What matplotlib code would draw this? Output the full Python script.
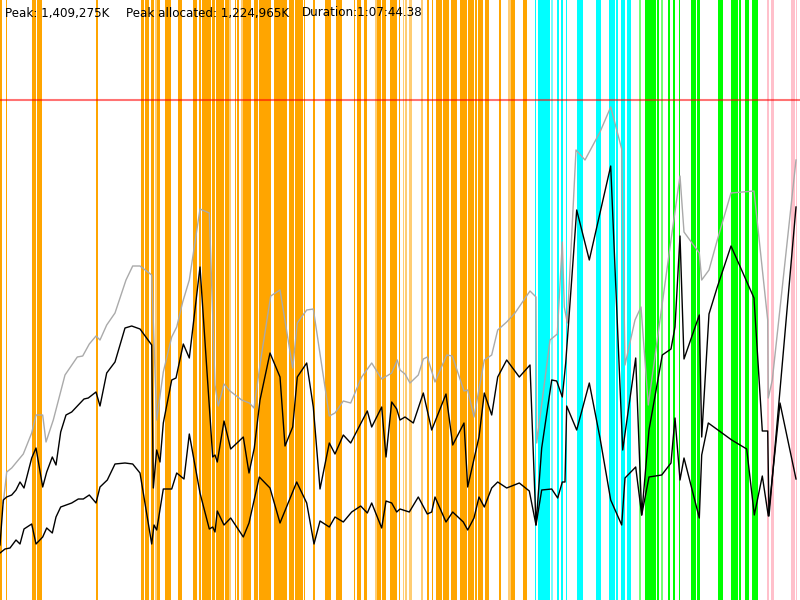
import matplotlib
matplotlib.use('Agg')
import matplotlib.pyplot as plt

# summary figures shown in the header
peak_k = 1409275
peak_alloc_k = 1224965
duration = '1:07:44.38'

# time axis runs 0..800 (log ticks), memory in units of 2.75 MB
units_per_k = 500 / peak_k

# heap committed (gray)
committed_t = [3.3, 6.7, 11.7, 18.3, 23.3, 31.7, 36, 42.7, 46, 53.3, 65, 77.3, 82.7, 89.3,
               96, 100, 106.7, 115, 126, 132.7, 140, 151.7, 156.7, 163.3, 171.7, 176.7,
               182.7, 189.3, 200, 209.3, 215, 218.3, 224, 230, 241.7, 249.3, 254, 260.7,
               270.7, 280, 292.7, 297.3, 306.7, 313.3, 329.3, 335, 343.3, 350.7, 361.7,
               371.7, 381.7, 391.7, 397.3, 400, 405, 410, 418.3, 423.3, 427.3, 435, 446.7,
               452.3, 464, 467.7, 474, 484.3, 491.7, 497.7, 506.7, 515, 530, 536, 536.7,
               550, 557.3, 562.3, 564.3, 567.3, 576, 585, 600, 610.7, 621.7, 625, 635,
               641, 648.3, 671, 680, 684, 699.3, 701.7, 709, 717.3, 731, 754, 767.7,
               768.3, 772.3, 796]
committed = [97, 128, 132, 140, 146, 167, 185, 185, 158, 180, 225, 243, 244, 256,
             264, 260, 275, 287, 320, 334, 334, 325, 180, 228, 263, 273,
             298, 320, 391, 387, 215, 194, 216, 209, 200, 197, 192, 240,
             304, 310, 232, 277, 290, 291, 184, 187, 199, 197, 223,
             237, 221, 227, 240, 230, 226, 217, 225, 241, 243, 218, 245,
             244, 209, 210, 183, 240, 245, 270, 278, 287, 309, 303, 157,
             260, 266, 358, 293, 277, 450, 440, 468, 493, 451, 235, 280,
             293, 195, 360, 424, 368, 347, 320, 330, 360, 407, 409, 280,
             202, 220, 440]

# heap used before collection (black, upper)
used_t = [0, 3.3, 6.7, 11.7, 16, 20, 24, 31.7, 36, 42.7, 46.7, 52.3, 56, 60.7, 66,
          71.7, 78.3, 84, 88.3, 96, 100, 106.7, 115, 125, 131.7, 140, 151.7, 153.3,
          156.7, 160, 163.3, 171.7, 176, 183.3, 189.3, 200, 212.7, 215, 217.3, 224,
          230.7, 243.3, 249, 254.3, 260, 270, 280, 285, 292.7, 297.3, 306.7, 313.3,
          320, 329.3, 335, 343.3, 350.7, 360, 367.3, 371.7, 381.7, 386, 391.7, 396.7,
          400, 405, 413.3, 423.3, 431.7, 446, 452.7, 464, 467.7, 479, 484.3, 491.7,
          497.7, 506.7, 519.3, 530, 536, 541.7, 551.7, 556.7, 562.3, 565.7, 576.7,
          589.3, 600, 610.7, 622.7, 635.7, 641.7, 649, 662.3, 671, 675, 680, 684,
          699.3, 701.7, 709, 717.3, 731, 754, 762.3, 767.7, 769, 796]
used = [55, 100, 103, 105, 110, 118, 112, 142, 152, 113, 128, 143, 135, 168, 185,
        188, 195, 201, 202, 208, 194, 227, 238, 272, 274, 271, 255, 112,
        150, 138, 177, 220, 222, 256, 242, 333, 143, 145, 138, 179,
        151, 163, 127, 152, 200, 247, 223, 154, 173, 223, 237, 193,
        111, 157, 146, 165, 157, 175, 189, 173, 193, 143, 198, 191,
        180, 183, 177, 207, 170, 206, 155, 177, 113, 163, 207, 185,
        223, 240, 223, 235, 75, 152, 220, 219, 203, 237, 390,
        340, 387, 434, 150, 242, 85, 170, 245, 251, 273, 364, 241,
        285, 163, 286, 313, 354, 302, 169, 169, 84, 393]

# heap live after collection (black, lower)
live_t = [0, 5, 10, 16, 20, 24, 31.7, 36, 42.7, 46.7, 52.3, 56, 60.7, 71.7, 78.3,
          83.3, 89.3, 96, 100, 107.3, 115, 125, 132.7, 140, 151.7, 154, 156.7, 163.3,
          171.7, 176.7, 184, 189.3, 200, 209.3, 212.7, 215, 217.3, 224, 230.7, 243.3,
          249, 259.3, 270, 280, 296.7, 306.7, 314, 320, 329.3, 335, 343.3, 351.7,
          360.7, 367.3, 371.7, 381.7, 386, 391.7, 396.7, 400, 409.3, 418.3, 427.3,
          431.7, 435, 446, 452.7, 463.3, 467.7, 474, 479, 484.3, 491.7, 497.7, 506.7,
          519.3, 529.3, 536, 541.7, 551.7, 557.7, 562.3, 565, 566.7, 576.7, 589.3,
          600, 610.7, 621.7, 625, 635.7, 641.7, 649, 661.7, 671, 675, 680, 684, 699.3,
          701.7, 708.3, 731.7, 746.7, 754.3, 762.3, 768.3, 780, 796]
live = [47, 51, 52, 60, 56, 71, 76, 56, 63, 72, 67, 83, 93, 97, 101,
        101, 105, 97, 113, 120, 136, 137, 136, 127, 56, 75, 70, 111,
        111, 127, 121, 166, 107, 71, 73, 68, 89, 75, 82, 63,
        77, 123, 112, 77, 118, 97, 56, 79, 73, 83, 78, 88,
        94, 87, 97, 72, 99, 97, 88, 91, 88, 103, 86,
        88, 103, 78, 88, 78, 70, 82, 103, 93, 112, 118, 112,
        117, 109, 75, 110, 111, 102, 118, 118, 194, 170, 217,
        162, 100, 75, 122, 133, 85, 123, 125, 137, 182, 120, 142, 82,
        145, 177, 160, 151, 85, 124, 84, 197, 121]

# collection events (start, end) by kind; faint = short/partial events
young_gc = [(0, 2), (5.7, 7.3), (32, 36), (37, 42), (96, 97.7), (140.7, 144), (145.3, 149),
            (150.7, 154), (156.7, 160), (165, 170.7), (178.3, 181.7), (192.7, 196.7),
            (198.7, 201.3), (202, 211), (212, 215.3), (216, 224), (224.7, 228.7),
            (234.7, 236), (236.7, 239.3), (243.3, 250.7), (254, 258), (259.3, 270.7),
            (274, 278.7), (279.3, 287.3), (288.7, 294), (294.7, 303.3), (304, 305.3),
            (312.7, 315), (325, 330.7), (336, 342), (354, 355.3), (357.3, 361.3),
            (364, 366.7), (377.3, 381), (382, 385.7), (390, 397.3), (398.7, 400),
            (427.3, 429.3), (432, 433.3), (436, 438.7), (439.3, 442), (442.7, 448.7),
            (450.7, 457.3), (460, 466.7), (468, 474), (475.3, 477.3), (478, 483.3),
            (485, 489.3), (498.7, 500.7), (511.3, 515.3), (522.7, 527.3)]
young_faint = [(154.7, 156.7), (229.3, 230.7), (240.7, 242.7), (375.3, 376.7),
               (402.7, 404), (404.7, 406.7), (408.7, 412), (421.3, 423.3), (508, 510.7)]
mixed_gc = [(534.7, 536), (538, 550), (556.7, 558.7), (560.7, 563.3), (566, 567.3),
            (576.7, 583.3), (596, 601.3), (608.7, 614.7), (616, 618), (620.7, 625.3),
            (626.7, 631.3)]
mixed_faint = [(550.7, 552.7)]
full_gc = [(644.7, 648.7), (649.3, 656), (657.3, 659.3), (668, 670), (672.7, 674.7),
           (678.7, 680), (691.3, 696), (696.7, 700), (718, 722.7), (731.3, 738),
           (739.3, 740.7), (745.3, 749.3), (752, 758)]
full_faint = [(639.3, 641.3), (660.7, 662.7)]
remark_gc = [(766.7, 768.7), (771.3, 774), (791.3, 794.7), (796, 796.7)]

fig = plt.figure(figsize=(8, 6), dpi=100)
ax = fig.add_axes([0, 0, 1, 1])

pad = 0.15  # antialiased edges in the original look a touch wider
for spans, color, alpha in [(young_gc, '#FFA500', 1.0), (young_faint, '#FFA500', 0.55),
                            (mixed_gc, '#00FFFF', 1.0), (mixed_faint, '#00FFFF', 0.55),
                            (full_gc, '#00FF00', 1.0), (full_faint, '#00FF00', 0.55),
                            (remark_gc, '#FFC0CB', 1.0)]:
    for a, b in spans:
        ax.axvspan(a - pad, b + pad, color=color, alpha=alpha, lw=0, zorder=1)

ax.axhline(peak_k * units_per_k, color='#FF0000', alpha=0.55, lw=1.5, zorder=2)
ax.plot(committed_t, committed, color='#AAAAAA', lw=1, zorder=3)
ax.plot(used_t, used, color='black', lw=1, zorder=4)
ax.plot(live_t, live, color='black', lw=1, zorder=4)

ax.set_xlim(0, 800)
ax.set_ylim(0, 600)
ax.axis('off')

header = [(5, f'Peak: {peak_k:,}K'),
          (125.7, f'Peak allocated: {peak_alloc_k:,}K'),
          (301.7, f'Duration:{duration}')]
for px, s in header:
    fig.text(px / 800, 1 - 13 / 600, s, fontsize=8.6, family='DejaVu Sans',
             va='center', ha='left')

fig.savefig('out.png', dpi=100)
